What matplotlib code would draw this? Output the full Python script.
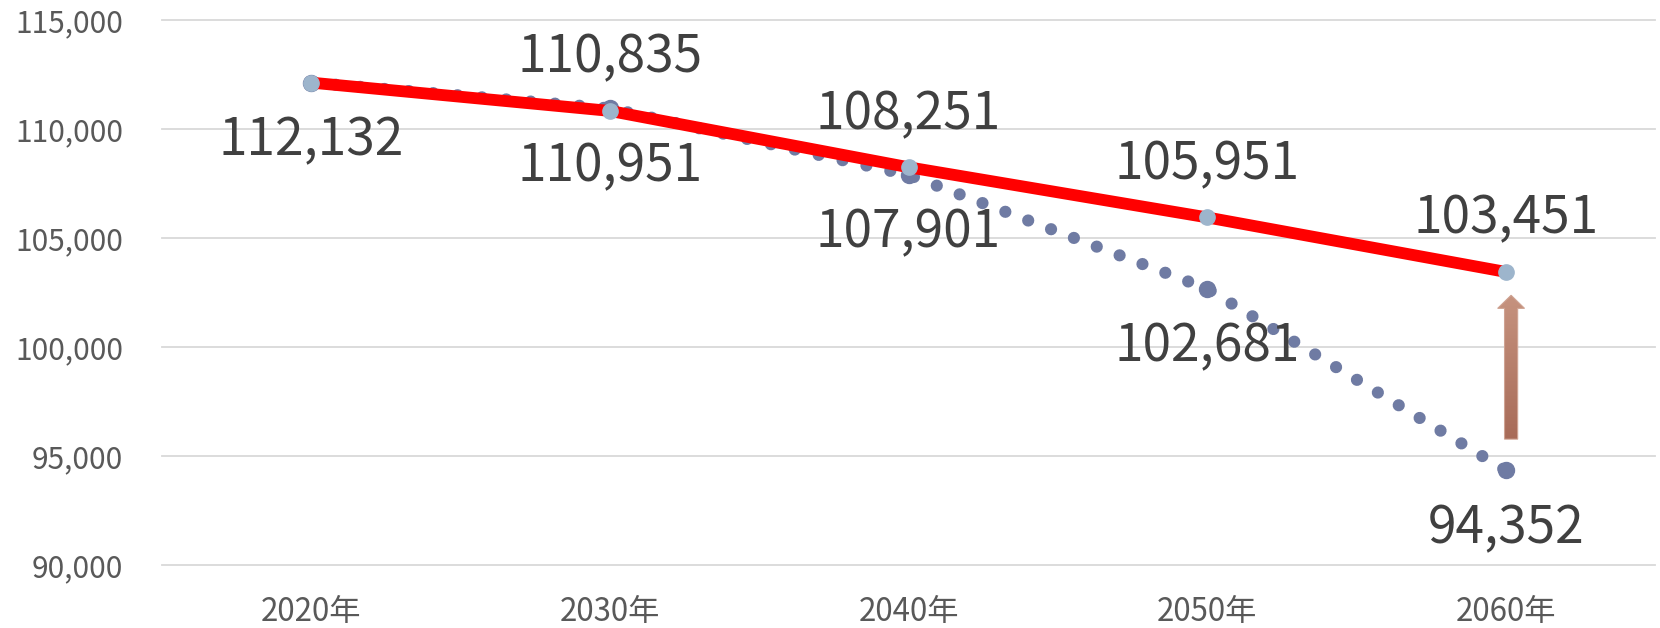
import numpy as np
import matplotlib
matplotlib.use("Agg")
import matplotlib.pyplot as plt
from matplotlib.patches import FancyArrow
from matplotlib.colors import LinearSegmentedColormap
from matplotlib.ticker import FuncFormatter

# ---- data ----
categories = ['2020年', '2030年', '2040年', '2050年', '2060年']
target_values = [112132, 110835, 108251, 105951, 103451]
baseline_values = [112132, 110951, 107901, 102681, 94352]
y_ticks = [90000, 95000, 100000, 105000, 110000, 115000]
arrow_from = 95780
arrow_to = 102380

plt.rcParams['font.family'] = ['Noto Sans CJK JP', 'DejaVu Sans']

fig = plt.figure(figsize=(16.6, 6.28), dpi=100)
ax = fig.add_axes([0.0976, 0.100, 0.8994, 0.868])

x = np.arange(len(categories))
dot_color = '#6F7BA3'
light = '#9DB5CC'
red = '#FF0000'

# baseline (dotted) series
ax.plot(x, baseline_values, color=dot_color, lw=8.8, linestyle=(0, (0.001, 2.0)),
        dash_capstyle='round', zorder=2)
ax.plot(x, baseline_values, 'o', color=dot_color, ms=11.5, zorder=2)

# target (red) series
ax.plot(x, target_values, color=red, lw=8.5, solid_capstyle='butt', zorder=3)
ax.plot(x, target_values, 'o', color=light, ms=11, mec=light, zorder=3)

label_color = '#404040'
for xi, v in zip(x, baseline_values):
    ax.annotate(f'{v:,}', (xi, v), xytext=(0, -58), textcoords='offset pixels',
                ha='center', va='center', fontsize=37, color=label_color, zorder=6)
for xi, v in zip(x[1:], target_values[1:]):
    ax.annotate(f'{v:,}', (xi, v), xytext=(0, 53), textcoords='offset pixels',
                ha='center', va='center', fontsize=37, color=label_color, zorder=6)

# gradient arrow
ax_x = x[-1] + 0.018
arr = FancyArrow(ax_x, arrow_from, 0, arrow_to - arrow_from, width=0.044,
                 head_width=0.09, head_length=600, length_includes_head=True,
                 facecolor='none', edgecolor='#CFA393', lw=0.8, zorder=5)
ax.add_patch(arr)
cmap = LinearSegmentedColormap.from_list('arr', ['#A86B58', '#C6937F'])
grad = np.linspace(0, 1, 256).reshape(-1, 1)
im = ax.imshow(grad, cmap=cmap, origin='lower', aspect='auto',
               extent=[ax_x - 0.05, ax_x + 0.05, arrow_from, arrow_to], zorder=4)
im.set_clip_path(arr)

ax.set_xlim(-0.5, len(categories) - 0.5)
ax.set_ylim(y_ticks[0], y_ticks[-1])
ax.set_xticks(x)
ax.set_xticklabels(categories)
ax.set_yticks(y_ticks)
ax.yaxis.set_major_formatter(FuncFormatter(lambda v, p: f'{int(v):,}'))
ax.yaxis.grid(True, color='#D9D9D9', lw=1.3)
ax.set_axisbelow(True)
for gl in ax.get_ygridlines():
    gl.set_clip_on(False)
for s in ax.spines.values():
    s.set_visible(False)
ax.tick_params(axis='y', length=0, pad=28, labelsize=21.5, labelcolor='#595959')
ax.tick_params(axis='x', length=0, pad=22, labelsize=22.5, labelcolor='#595959')

fig.savefig('out.png', dpi=100, facecolor='white')
